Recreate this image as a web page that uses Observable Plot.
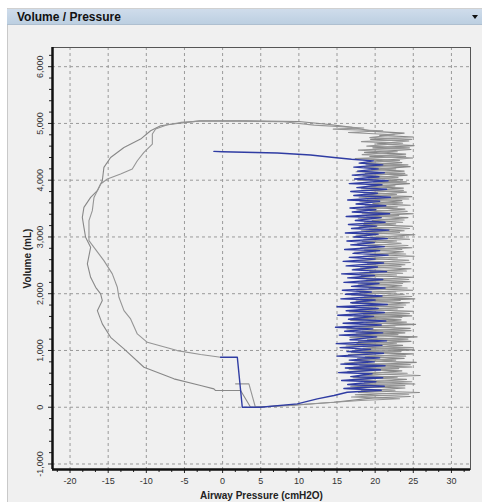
<!DOCTYPE html>
<html>
<head>
<meta charset="utf-8">
<script src="https://cdn.jsdelivr.net/npm/d3@7"></script>
<script src="https://cdn.jsdelivr.net/npm/@observablehq/plot@0.6"></script>
<style>
  html, body { margin: 0; padding: 0; background: #ffffff; }
  body { width: 482px; height: 502px; position: relative; overflow: hidden; font-family: "Liberation Sans", Arial, sans-serif; }
  #panel { position: absolute; left: 7px; top: 8px; width: 475px; height: 494px; background: #f0f0f0; border-left: 1px solid #c9c9c9; border-top: 1px solid #d0d0d0; box-sizing: border-box; }
  #header { position: absolute; left: 7px; top: 9px; width: 475px; height: 16px; background: linear-gradient(#cfdceb, #bccfe1); border-bottom: 1px solid #aebfd0; box-sizing: border-box; }
  #title { position: absolute; left: 10px; top: 1px; font-weight: bold; font-size: 12px; color: #111; }
  #menu { position: absolute; right: 4px; top: 6px; width: 0; height: 0; border-left: 3px solid transparent; border-right: 3px solid transparent; border-top: 4px solid #111; }
  #chart { position: absolute; left: 0; top: 25px; }
  #chart svg [aria-label="x-axis label"] text,
  #chart svg [aria-label="y-axis label"] text,
  #chart svg [aria-label="x-axis label"],
  #chart svg [aria-label="y-axis label"] { font-weight: bold; font-size: 10px; fill: #222; }
</style>
</head>
<body>
<div id="panel"></div>
<div id="header"><div id="title">Volume / Pressure</div><div id="menu"></div></div>
<div id="chart"></div>
<script>
// Axis ticks
const xTicks = [-20, -15, -10, -5, 0, 5, 10, 15, 20, 25, 30];
const yTicks = [-1000, 0, 1000, 2000, 3000, 4000, 5000, 6000];
const xMinorTicks = [-21.67, -18.33, -16.67, -13.33, -11.67, -8.33, -6.67, -3.33, -1.67, 1.67, 3.33, 6.67, 8.33, 11.67, 13.33, 16.67, 18.33, 21.67, 23.33, 26.67, 28.33, 31.67];
const yMinorTicks = [-800, -600, -400, -200, 200, 400, 600, 800, 1200, 1400, 1600, 1800, 2200, 2400, 2600, 2800, 3200, 3400, 3600, 3800, 4200, 4400, 4600, 4800, 5200, 5400, 5600, 5800, 6200];

// Earlier breath (gray): rise along the bottom, noisy inspiration, top plateau, wide expiration curve
const grayBreathA = [
  [3.67,0],[9.0,30],[14.6,88],[19.8,165],
  [24.6,190],[17.4,220],[25.8,260],[18.2,290],[23.9,340],[16.8,370],[25.2,410],[18.6,440],[24.1,490],[17.1,520],
  [25.9,560],[18.9,590],[23.5,640],[16.6,670],[24.8,710],[18.0,740],[25.4,790],[17.3,820],[23.8,860],[18.7,890],
  [24.9,940],[16.9,970],[25.1,1010],[18.4,1040],[23.6,1090],[17.6,1120],[24.7,1160],[19.0,1190],[25.5,1240],[17.0,1270],
  [23.9,1310],[18.3,1340],[24.6,1390],[17.7,1420],[25.3,1460],[18.8,1490],[23.4,1540],[17.2,1570],[24.8,1610],[18.5,1640],
  [25.0,1690],[17.9,1720],[23.7,1760],[19.1,1790],[24.5,1840],[17.5,1870],[25.2,1910],[18.6,1940],[23.8,1990],[18.0,2020],
  [24.9,2060],[19.2,2090],[23.5,2140],[17.8,2170],[24.6,2210],[18.9,2240],[25.0,2290],[18.2,2320],[23.6,2360],[19.3,2390],
  [24.7,2440],[18.1,2470],[23.9,2510],[19.0,2540],[24.4,2590],[18.4,2620],[25.1,2660],[19.4,2690],[23.7,2740],[18.6,2770],
  [24.8,2810],[19.1,2840],[23.4,2890],[18.3,2920],[24.5,2960],[19.5,2990],[25.2,3040],[18.8,3070],[23.8,3110],[19.2,3140],
  [24.9,3190],[18.5,3220],[23.6,3260],[19.6,3290],[24.3,3340],[18.9,3370],[25.0,3410],[19.3,3440],[23.9,3490],[18.7,3520],
  [24.6,3560],[19.7,3590],[23.5,3640],[19.0,3670],[24.8,3710],[18.6,3740],[24.1,3790],[19.4,3820],[23.7,3860],[18.9,3890],
  [24.5,3940],[19.8,3970],[23.6,4010],[19.1,4040],[24.2,4090],[18.7,4120],[23.8,4160],[19.5,4190],[24.6,4240],[18.8,4270],
  [23.5,4310],[19.9,4340],[24.9,4390],[19.3,4420],[24.0,4460],[18.6,4490],[24.7,4540],[19.7,4570],[25.1,4610],[20.2,4640],
  [24.4,4690],[19.4,4720],[25.0,4760],[20.6,4790],[23.8,4830],[19.8,4860],
  [17.0,4930],[14.0,4980],[10.0,5035],[3.0,5045],[-3.0,5045],
  [-5.94,5000],[-8.13,4960],[-9.44,4871],[-10.75,4725],[-12.93,4577],[-14.68,4401],[-15.56,4225],[-15.77,3991],
  [-16.42,3815],[-17.3,3697],[-18.18,3521],[-18.39,3345],[-18.18,3169],[-17.96,2993],[-17.3,2817],[-17.73,2525],
  [-17.3,2289],[-16.64,2113],[-15.99,1996],[-15.77,1879],[-16.42,1702],[-15.77,1468],[-14.68,1232],[-12.93,1028],
  [-10.31,704],[-6.38,500],[-2.88,382],[-1.14,324],[-0.92,294],[2.36,294],[3.67,0]
];

// Second gray breath: ends on the inner expiration curve where the current breath begins
const grayBreathB = [
  [1.7,412],[3.45,412],[4.3,0],[10.2,48],[14.6,88],[18.1,118],
  [23.2,150],[16.9,180],[24.4,230],[17.8,260],[22.6,300],[16.2,330],[23.9,380],[17.5,410],[24.8,450],[16.6,480],
  [22.9,530],[17.9,560],[24.2,600],[16.4,630],[23.1,680],[17.2,710],[24.6,750],[16.0,780],[22.7,830],[17.7,860],
  [24.0,900],[16.5,930],[23.4,980],[17.4,1010],[24.9,1050],[16.2,1080],[22.8,1130],[17.8,1160],[24.3,1200],[16.7,1230],
  [23.0,1280],[17.5,1310],[24.7,1350],[16.3,1380],[22.6,1430],[18.0,1460],[24.1,1500],[16.8,1530],[23.5,1580],[17.3,1610],
  [24.5,1650],[16.6,1680],[22.9,1730],[17.9,1760],[24.0,1800],[17.0,1830],[23.3,1880],[18.1,1910],[24.8,1950],[16.9,1980],
  [22.7,2030],[17.6,2060],[24.2,2100],[17.2,2130],[23.6,2180],[18.2,2210],[24.4,2250],[17.4,2280],[22.8,2330],[18.0,2360],
  [24.1,2400],[17.1,2430],[23.4,2480],[18.3,2510],[24.6,2550],[17.6,2580],[22.9,2630],[18.4,2660],[24.0,2700],[17.3,2730],
  [23.5,2780],[18.1,2810],[24.3,2850],[17.7,2880],[22.8,2930],[18.5,2960],[23.9,3000],[17.5,3030],[23.2,3080],[18.2,3110],
  [24.5,3150],[17.9,3180],[22.7,3230],[18.6,3260],[23.8,3300],[17.8,3330],[23.1,3380],[18.3,3410],[24.2,3450],[17.6,3480],
  [22.9,3530],[18.7,3560],[23.6,3600],[18.0,3630],[24.4,3670],[17.9,3700],[22.8,3750],[18.5,3780],[23.7,3820],[18.2,3850],
  [22.6,3900],[18.8,3930],[24.1,3970],[17.7,4000],[23.0,4050],[18.4,4080],[23.9,4120],[17.5,4150],[22.7,4200],[18.6,4230],
  [24.3,4270],[18.1,4300],[23.2,4350],[17.4,4380],[24.0,4420],[18.3,4450],[22.9,4500],[17.8,4530],[24.5,4570],[18.9,4600],
  [23.6,4650],[18.2,4680],[24.8,4720],[19.3,4750],[22.5,4800],[16.5,4840],[21.0,4870],[14.5,4900],[18.5,4920],[12.0,4970],
  [8.0,5030],[2.0,5040],[-3.0,5040],
  [-5.5,5018],[-7.25,4977],[-8.78,4901],[-9.21,4813],[-9.21,4637],[-10.31,4489],[-11.18,4343],[-11.84,4197],
  [-13.37,4109],[-15.11,4021],[-15.99,3933],[-16.86,3697],[-17.08,3463],[-17.52,3287],[-17.52,2935],[-16.86,2817],
  [-15.56,2583],[-14.46,2349],[-13.8,2113],[-13.59,1937],[-12.93,1702],[-12.06,1556],[-11.18,1292],[-9.87,1144],
  [-5.94,998],[-2.88,928],[-0.26,880]
];

// Current breath (blue)
const blueBreath = [
  [-0.26,880],[1.93,880],[2.58,0],[4.98,0],[9.79,60],[12.41,148],[14.6,206],[16.34,264],
  [20.8,300],[15.9,330],[21.2,370],[16.4,400],[20.1,450],[15.6,470],[21.0,520],[16.8,540],[19.6,590],[15.2,610],
  [20.7,660],[16.1,690],[21.3,730],[15.5,760],[19.9,800],[16.6,830],[20.6,870],[15.0,900],[21.1,950],[16.3,980],
  [19.4,1020],[15.4,1050],[20.9,1090],[14.9,1120],[21.5,1170],[16.7,1190],[20.2,1240],[15.3,1270],[21.0,1310],[16.0,1340],
  [19.7,1380],[14.8,1410],[20.8,1450],[15.8,1480],[21.4,1520],[16.5,1550],[19.8,1600],[15.1,1620],[21.2,1670],[16.2,1700],
  [20.4,1740],[15.0,1770],[21.6,1810],[16.8,1840],[20.0,1890],[15.5,1910],[20.9,1960],[16.1,1990],[19.5,2030],[15.7,2060],
  [21.3,2100],[16.9,2130],[20.5,2180],[15.9,2200],[21.0,2250],[16.4,2280],[19.9,2320],[15.6,2350],[21.5,2390],[17.0,2420],
  [20.3,2470],[16.2,2490],[21.1,2540],[15.8,2570],[20.0,2610],[16.6,2640],[21.7,2680],[17.1,2710],[20.6,2760],[16.0,2780],
  [21.2,2830],[16.8,2860],[19.9,2900],[16.3,2930],[21.6,2970],[17.2,3000],[20.4,3050],[16.1,3070],[21.8,3120],[16.9,3150],
  [20.2,3190],[16.5,3220],[21.3,3260],[17.4,3290],[20.8,3340],[16.2,3360],[21.9,3410],[17.0,3440],[20.1,3480],[16.7,3510],
  [21.4,3550],[17.5,3580],[20.6,3630],[16.4,3650],[22.0,3700],[17.2,3730],[20.3,3770],[16.8,3800],[21.5,3840],[17.6,3870],
  [20.9,3920],[16.6,3940],[21.7,3990],[17.3,4020],[20.5,4060],[17.0,4090],[21.2,4130],[17.7,4160],[20.4,4200],[17.2,4230],
  [21.0,4270],[17.9,4300],[19.8,4340],[16.9,4370],
  [14.6,4401],[11.53,4443],[7.17,4479],[-0.04,4502],[-1.14,4507]
];

const fmt = d => d.toLocaleString("en-US");
const dash = "3,3";

const chart = Plot.plot({
  width: 482,
  height: 477,
  marginLeft: 52,
  marginRight: 12,
  marginTop: 22,
  marginBottom: 33,
  style: { background: "transparent", fontFamily: "'Liberation Sans', Arial, sans-serif", fontSize: "9px", color: "#333" },
  x: { domain: [-22.3, 32.5] },
  y: { domain: [-1097, 6338] },
  marks: [
    // dotted grid
    Plot.ruleX(xTicks, { stroke: "#9a9a9a", strokeDasharray: dash, strokeWidth: 1 }),
    Plot.ruleY(yTicks, { stroke: "#9a9a9a", strokeDasharray: dash, strokeWidth: 1 }),
    // curves
    Plot.line(grayBreathA, { x: d => d[0], y: d => d[1], stroke: "#888888", strokeWidth: 1.1 }),
    Plot.line(grayBreathB, { x: d => d[0], y: d => d[1], stroke: "#959595", strokeWidth: 1.1 }),
    Plot.line(blueBreath, { x: d => d[0], y: d => d[1], stroke: "#2f3ca3", strokeWidth: 1.4 }),
    // frame: thin top/right, heavy left/bottom axis lines
    Plot.frame({ stroke: "#555", strokeWidth: 1 }),
    Plot.axisX({ ticks: xMinorTicks, tickSize: 3, text: null, label: null, stroke: "#222" }),
    Plot.axisY({ ticks: yMinorTicks, tickSize: 3, text: null, label: null, stroke: "#222" }),
    Plot.axisX({ ticks: xTicks, tickFormat: fmt, tickSize: 4, tickPadding: 4, fontSize: 9, stroke: "#222",
      label: "Airway Pressure (cmH2O)", labelAnchor: "center", labelArrow: "none", labelOffset: 29 }),
    Plot.axisY({ ticks: yTicks, tickFormat: fmt, tickSize: 4, tickPadding: 6, tickRotate: -90, fontSize: 9, stroke: "#222",
      label: "Volume (mL)", labelAnchor: "center", labelArrow: "none", labelOffset: 29 }),
    Plot.ruleX([-22.3], { stroke: "#111", strokeWidth: 2.5 }),
    Plot.ruleY([-1097], { stroke: "#111", strokeWidth: 2.5 })
  ]
});
document.getElementById("chart").appendChild(chart);
</script>
</body>
</html>
